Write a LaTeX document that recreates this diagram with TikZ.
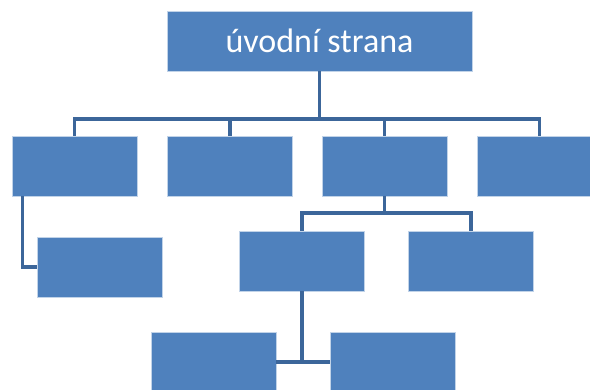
\documentclass[tikz,border=0pt]{standalone}
\usepackage{fontspec}
\setmainfont{Carlito}
\usetikzlibrary{calc}
\definecolor{boxblue}{RGB}{79,129,189}
\definecolor{lineblue}{RGB}{60,102,154}
\tikzset{
  orgbox/.style={rectangle, fill=boxblue, draw=boxblue!35!white, line width=0.6pt,
    minimum width=125pt, minimum height=60pt, inner sep=0pt, text=white},
  conn/.style={draw=lineblue, line width=3.4pt}
}
\begin{document}
\begin{tikzpicture}[x=1pt,y=-1pt]
\useasboundingbox (0,0) rectangle (590,390);
\clip (0,0) rectangle (590,390);
\node[orgbox, minimum width=305pt, font=\fontsize{34}{37}\selectfont] (top) at (319.5,41) {úvodní strana};
\node[orgbox] (c1) at (74.5,166) {};
\node[orgbox] (c2) at (230,166) {};
\node[orgbox] (c3) at (384.5,166) {};
\node[orgbox] (c4) at (539.5,166) {};
\node[orgbox] (c1a) at (100,267) {};
\node[orgbox] (a) at (302,261) {};
\node[orgbox] (b) at (471,261) {};
\node[orgbox] (g1) at (213.5,362) {};
\node[orgbox] (g2) at (392.5,362) {};
\coordinate (bus) at (319.5,119);
\coordinate (bus3) at (384.5,213);
\draw[conn] (top.south) -- (bus);
\draw[conn] (bus) -| (c1.north);
\draw[conn] (bus) -| (c2.north);
\draw[conn] (bus) -| (c3.north);
\draw[conn] (bus) -| (c4.north);
\draw[conn] ($(c1.south west)+(11,0)$) |- (c1a.west);
\draw[conn] (c3.south) -- (bus3);
\draw[conn] (bus3) -| (a.north);
\draw[conn] (bus3) -| (b.north);
\draw[conn] (a.south) |- (g1.east);
\draw[conn] (a.south) |- (g2.west);
\end{tikzpicture}
\end{document}
